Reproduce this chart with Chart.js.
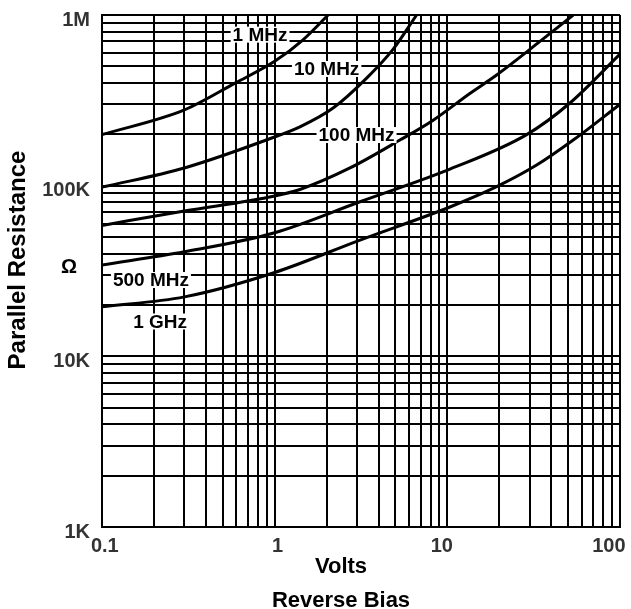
<!DOCTYPE html>
<html>
<head>
<meta charset="utf-8">
<title>Parallel Resistance vs Reverse Bias</title>
<script src="https://cdn.jsdelivr.net/npm/chart.js@4.4.1/dist/chart.umd.min.js"></script>
<style>
  html, body { margin: 0; padding: 0; background: #fff; }
  #wrap { width: 631px; height: 609px; }
</style>
</head>
<body>
<div id="wrap"><canvas id="resistance-chart" width="631" height="609"></canvas></div>
<script>
// decades of both log axes and their labels
const xDecades = [0.1, 1, 10, 100];
const xTickLabels = ['0.1', '1', '10', '100'];
const yDecades = [1000, 10000, 100000, 1000000];
const yTickLabels = ['1K', '10K', '100K', '1M'];
const gridSteps = [1, 2, 3, 4, 5, 6, 7, 8, 9];

// curves (volts, ohms)
const curveNames = ['1 MHz', '10 MHz', '100 MHz', '500 MHz', '1 GHz'];

const volts1MHz = [0.1, 0.3, 0.59, 1.0, 1.46, 2.04];
const ohms1MHz = [199000, 278000, 399000, 535000, 716000, 1000000];

const volts10MHz = [0.1, 0.3, 1.0, 1.4, 2.18, 3.41, 4.86, 6.64];
const ohms10MHz = [98000, 127000, 193000, 221000, 285000, 427000, 631000, 1000000];

const volts100MHz = [0.1, 0.3, 1.0, 1.4, 2.73, 5.31, 8.28, 13.5, 19.3, 34.4, 53.6];
const ohms100MHz = [58500, 71000, 87000, 95000, 127000, 185000, 242000, 347000, 445000, 700000, 1000000];

const volts500MHz = [0.1, 0.3, 1.0, 3.12, 10.35, 28.8, 51.3, 100];
const ohms500MHz = [34300, 41000, 53000, 80500, 125000, 199000, 305000, 590000];

const volts1GHz = [0.1, 0.3, 1.0, 3.12, 10.35, 19.3, 32.9, 53.6, 100];
const ohms1GHz = [19500, 22300, 31000, 48000, 75000, 98600, 132000, 185000, 300000];

// where each curve name sits (volts, ohms)
const labelVolts = [0.823, 2.0, 2.98, 0.192, 0.217];
const labelOhms = [767000, 483000, 198000, 28000, 16000];

const seriesVolts = [volts1MHz, volts10MHz, volts100MHz, volts500MHz, volts1GHz];
const seriesOhms = [ohms1MHz, ohms10MHz, ohms100MHz, ohms500MHz, ohms1GHz];

const FONT = '"Liberation Sans", Arial, Helvetica, sans-serif';

function logGrid(decades) {
  const vals = [];
  for (let i = 0; i < decades.length - 1; i++) {
    for (let j = 0; j < gridSteps.length; j++) {
      vals.push(Number((decades[i] * gridSteps[j]).toPrecision(10)));
    }
  }
  vals.push(decades[decades.length - 1]);
  return vals;
}

function decadeIndex(value, decades) {
  for (let i = 0; i < decades.length; i++) {
    if (Math.abs(value - decades[i]) / decades[i] < 1e-6) return i;
  }
  return -1;
}

// small sideways nudge of the volt labels (in spaces), like the original print
const xLabelNudge = [1, 1, -2, -4];
function xLabel(value) {
  const i = decadeIndex(value, xDecades);
  if (i < 0) return '';
  const n = xLabelNudge[i];
  return n > 0 ? ' '.repeat(n) + xTickLabels[i] : xTickLabels[i] + ' '.repeat(-n);
}
function yLabel(value) {
  const i = decadeIndex(value, yDecades);
  return i < 0 ? '' : yTickLabels[i];
}

const datasets = [];
for (let i = 0; i < curveNames.length; i++) {
  const pts = [];
  for (let j = 0; j < seriesVolts[i].length; j++) {
    pts.push({ x: seriesVolts[i][j], y: seriesOhms[i][j] });
  }
  datasets.push({
    label: curveNames[i],
    data: pts,
    borderColor: '#000',
    borderWidth: 3,
    pointRadius: 0,
    cubicInterpolationMode: 'monotone',
    fill: false
  });
}

// names on the curves, with a white box that hides the grid behind them
const curveLabels = {
  id: 'curveLabels',
  afterDatasetsDraw(chart) {
    const ctx = chart.ctx;
    const xs = chart.scales.x;
    const ys = chart.scales.y;
    ctx.save();
    ctx.font = 'bold 19px ' + FONT;
    ctx.textAlign = 'center';
    ctx.textBaseline = 'middle';
    for (let i = 0; i < curveNames.length; i++) {
      const px = xs.getPixelForValue(labelVolts[i]);
      const py = ys.getPixelForValue(labelOhms[i]);
      const w = ctx.measureText(curveNames[i]).width;
      ctx.fillStyle = '#fff';
      ctx.fillRect(px - w / 2 - 2, py - 8, w + 4, 16);
      ctx.fillStyle = '#000';
      ctx.fillText(curveNames[i], px, py + 1);
    }
    ctx.restore();
  }
};

// axis titles and the ohm sign
const axisText = {
  id: 'axisText',
  afterDraw(chart) {
    const ctx = chart.ctx;
    const area = chart.chartArea;
    const cx = (area.left + area.right) / 2 - 20;
    ctx.save();
    ctx.fillStyle = '#000';
    ctx.textAlign = 'center';
    ctx.textBaseline = 'middle';
    ctx.font = 'bold 22px ' + FONT;
    ctx.fillText('Volts', cx, area.bottom + 40);
    ctx.fillText('Reverse Bias', cx, area.bottom + 74);

    ctx.save();
    ctx.translate(18, 260);
    ctx.rotate(-Math.PI / 2);
    ctx.font = 'bold 24px ' + FONT;
    ctx.fillText('Parallel Resistance', 0, 0);
    ctx.restore();

    ctx.font = 'bold 20px ' + FONT;
    ctx.fillText('\u03A9', 69, 267);
    ctx.restore();
  }
};

new Chart(document.getElementById('resistance-chart'), {
  type: 'line',
  data: { datasets: datasets },
  plugins: [curveLabels, axisText],
  options: {
    responsive: false,
    animation: false,
    layout: { padding: { left: 0, top: 15, right: 11, bottom: 0 } },
    plugins: {
      legend: { display: false },
      tooltip: { enabled: false }
    },
    scales: {
      x: {
        type: 'logarithmic',
        min: 0.1,
        max: 100,
        afterBuildTicks: (scale) => {
          scale.ticks = logGrid(xDecades).map(v => ({ value: v }));
        },
        afterFit: (scale) => {
          scale.height = 82;
          scale.paddingLeft = 0;
          scale.paddingRight = 0;
        },
        grid: { color: '#000', lineWidth: 2, drawTicks: false },
        border: { color: '#000', width: 2 },
        ticks: {
          autoSkip: false,
          maxRotation: 0,
          padding: 7,
          color: '#333',
          font: { family: FONT, size: 20, weight: 'bold' },
          callback: xLabel
        }
      },
      y: {
        type: 'logarithmic',
        min: 1000,
        max: 1000000,
        afterBuildTicks: (scale) => {
          scale.ticks = logGrid(yDecades).map(v => ({ value: v }));
        },
        afterFit: (scale) => {
          scale.width = 102;
          scale.paddingTop = 0;
          scale.paddingBottom = 0;
        },
        grid: { color: '#000', lineWidth: 2, drawTicks: false },
        border: { color: '#000', width: 2 },
        ticks: {
          autoSkip: false,
          padding: 12,
          labelOffset: 5,
          color: '#333',
          font: { family: FONT, size: 20, weight: 'bold' },
          callback: yLabel
        }
      }
    }
  }
});
</script>
</body>
</html>
